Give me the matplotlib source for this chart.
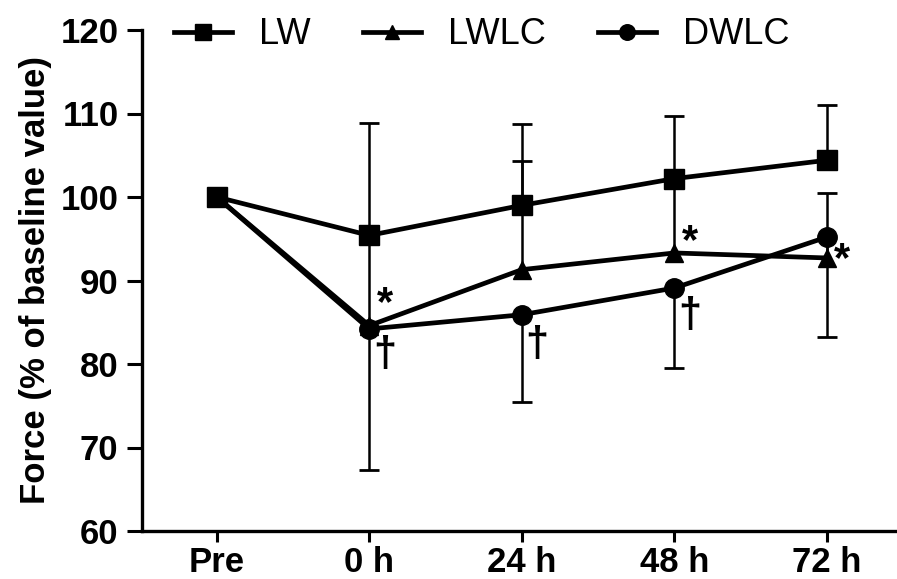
import numpy as np
import matplotlib.pyplot as plt

# time points and group means
timepoints = ['Pre', '0 h', '24 h', '48 h', '72 h']
lw = np.array([100, 95.4, 99.0, 102.2, 104.4])
lwlc = np.array([100, 84.6, 91.3, 93.3, 92.7])
dwlc = np.array([100, 84.2, 85.9, 89.1, 95.2])

# one-sided SD bars (LW and LWLC drawn up, DWLC drawn down)
lw_sd = np.array([0, 13.5, 9.7, 7.5, 6.6])
lwlc_sd = np.array([0, 10.8, 13.0, 8.9, 7.8])
dwlc_sd = np.array([0, 16.9, 10.4, 9.6, 12.0])

plt.rcParams['font.family'] = ['Liberation Sans', 'DejaVu Sans']

x = np.arange(len(timepoints))
zeros = np.zeros(len(x))

fig = plt.figure(figsize=(8.97, 5.79), dpi=100)
ax = fig.add_axes([142/897, 48/579, 1 - 142/897, 501/579])


def one_sided(y, sd, up, z):
    m = sd > 0
    err = [zeros[m], sd[m]] if up else [sd[m], zeros[m]]
    ax.errorbar(x[m], y[m], yerr=err, fmt='none', ecolor='black',
                elinewidth=1.8, capsize=0, zorder=z)
    ends = y[m] + sd[m] if up else y[m] - sd[m]
    ax.plot(x[m], ends, ls='none', marker='_', ms=15, mew=2.0, color='black', zorder=z)


one_sided(lwlc, lwlc_sd, True, 2)
one_sided(dwlc, dwlc_sd, False, 2)
one_sided(lw, lw_sd, True, 2)

l2, = ax.plot(x, lwlc, color='black', lw=3.4, marker='^', ms=13, label='LWLC', zorder=3)
l3, = ax.plot(x, dwlc, color='black', lw=3.4, marker='o', ms=14, label='DWLC', zorder=4)
l1, = ax.plot(x, lw, color='black', lw=3.4, marker='s', ms=14, label='LW', zorder=5)

# significance marks
for xi, yi, s in [(1, 87.2, '*'), (3, 94.6, '*'), (4, 92.4, '*')]:
    ax.text(xi + 0.1, yi, s, fontsize=30, fontweight='bold', ha='center', va='center')
for xi, yi in [(1, 81.1), (2, 82.3), (3, 85.8)]:
    ax.text(xi + 0.1, yi, '\u2020', fontsize=30, fontweight='bold', ha='center', va='center')

ax.set_xlim(-0.49, 4.46)
ax.set_ylim(60, 120)
ax.set_yticks(range(60, 121, 10))
ax.set_xticks(x)
ax.set_xticklabels(timepoints)
ax.tick_params(axis='x', labelsize=25, length=8, width=2.2, pad=3)
ax.tick_params(axis='y', labelsize=25, length=11, width=2.2, pad=6)
plt.setp(ax.get_xticklabels() + ax.get_yticklabels(), fontweight='bold')
ax.set_ylabel('Force (% of baseline value)', fontsize=25, fontweight='bold', labelpad=6)

for side in ['top', 'right']:
    ax.spines[side].set_visible(False)
for side in ['left', 'bottom']:
    ax.spines[side].set_linewidth(2.4)

fig.legend([l1, l2, l3], ['LW', 'LWLC', 'DWLC'], ncol=3,
           loc='center left', bbox_to_anchor=(174/897, 1 - 35/579),
           frameon=False, handlelength=1.6, columnspacing=1.45,
           handletextpad=0.75, borderaxespad=0, borderpad=0, markerscale=0.8,
           prop={'size': 26})

fig.savefig('out.png', dpi=100)
